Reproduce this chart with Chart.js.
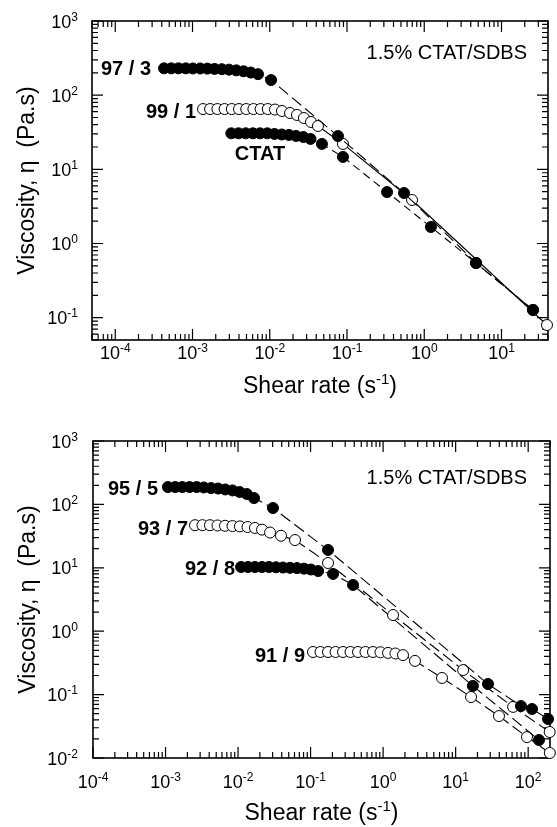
<!DOCTYPE html>
<html>
<head>
<meta charset="utf-8">
<title>Viscosity vs shear rate, 1.5% CTAT/SDBS</title>
<script src="https://cdn.jsdelivr.net/npm/chart.js@4.4.1/dist/chart.umd.min.js"></script>
<style>
  html, body { margin: 0; padding: 0; background: #fff; }
  #wrap { position: relative; width: 557px; height: 827px; }
  canvas { position: absolute; left: 0; }
  #top { top: 0; }
  #bottom { top: 413px; }
</style>
</head>
<body>
<div id="wrap">
  <canvas id="top" width="557" height="413"></canvas>
  <canvas id="bottom" width="557" height="414"></canvas>
</div>
<script>
// ============================================
// Data: shear rate (1/s) and viscosity (Pa.s)
// ============================================

// --- top panel: 97/3, 99/1, pure CTAT ---
const rate97 = [4.28e-4, 5.31e-4, 6.58e-4, 8.17e-4, 1.01e-3, 1.26e-3, 1.56e-3, 1.93e-3, 2.40e-3, 2.97e-3,
                3.69e-3, 4.58e-3, 5.68e-3, 7.05e-3, 1.04e-2, 0.0764, 0.547, 4.68, 25.6];
const eta97  = [230, 230, 230, 230, 229, 229, 228, 226, 224, 221,
                216, 210, 202, 192, 160, 28.1, 4.8, 0.546, 0.127];

const rate99 = [1.37e-3, 1.69e-3, 2.10e-3, 2.60e-3, 3.23e-3, 4.00e-3, 4.96e-3, 6.14e-3, 7.61e-3, 9.44e-3,
                1.17e-2, 1.44e-2, 1.83e-2, 2.25e-2, 2.77e-2, 3.42e-2, 4.21e-2, 0.0887, 0.695, 38.8];
const eta99  = [65, 65, 65, 65, 65, 65, 65, 65, 65, 65,
                64, 61.2, 57.5, 54.1, 49.2, 43.5, 38.4, 22.0, 3.86, 0.0796];

const rateCtat = [3.18e-3, 3.94e-3, 4.88e-3, 6.05e-3, 7.50e-3, 9.29e-3, 1.15e-2, 1.43e-2, 1.77e-2, 2.19e-2,
                  2.72e-2, 3.37e-2, 4.74e-2, 0.0887, 0.330, 1.22, 4.68, 25.6];
const etaCtat  = [30.6, 30.6, 30.6, 30.6, 30.6, 30.6, 30.0, 29.5, 29.1, 28.2,
                  27.3, 25.7, 22.0, 14.7, 4.94, 1.67, 0.546, 0.127];

// --- bottom panel: 95/5, 93/7, 92/8, 91/9 ---
const rate95 = [1.08e-3, 1.36e-3, 1.70e-3, 2.14e-3, 2.69e-3, 3.37e-3, 4.24e-3, 5.32e-3, 6.67e-3, 8.38e-3,
                1.05e-2, 1.32e-2, 1.66e-2, 3.03e-2, 0.174, 27.9, 79.6, 113, 188];
const eta95  = [188, 188, 188, 188, 188, 185, 181, 178, 172, 166,
                157, 146, 126, 87.7, 19.1, 0.147, 0.066, 0.0593, 0.0412];

const rate93 = [2.55e-3, 3.23e-3, 4.10e-3, 5.21e-3, 6.61e-3, 8.38e-3, 1.06e-2, 1.35e-2, 1.71e-2, 2.14e-2,
                2.76e-2, 3.91e-2, 6.10e-2, 0.174, 1.37, 12.7, 62, 198];
const eta93  = [47, 47, 47, 46.5, 46, 45.5, 45, 44, 42.5, 40,
                36, 32, 27.4, 11.9, 1.80, 0.244, 0.064, 0.0257];

const rate92 = [1.10e-2, 1.37e-2, 1.71e-2, 2.14e-2, 2.67e-2, 3.34e-2, 4.17e-2, 5.20e-2, 6.50e-2, 8.11e-2,
                0.101, 0.127, 0.204, 0.385, 17.3, 141];
const eta92  = [10.3, 10.3, 10.3, 10.3, 10.3, 10.2, 10.1, 10.0, 9.9, 9.7,
                9.4, 8.9, 8.0, 5.36, 0.137, 0.0192];

const rate91 = [0.108, 0.137, 0.174, 0.221, 0.280, 0.355, 0.451, 0.571, 0.725, 0.920,
                1.17, 1.48, 1.88, 2.75, 6.49, 16.3, 39.6, 96.4, 199];
const eta91  = [0.47, 0.47, 0.47, 0.47, 0.47, 0.47, 0.47, 0.47, 0.47, 0.465,
                0.455, 0.445, 0.42, 0.34, 0.183, 0.0916, 0.0459, 0.0214, 0.012];

// Decade exponents for the tick labels
const topXExps = [-4, -3, -2, -1, 0, 1];
const topYExps = [3, 2, 1, 0, -1];
const botXExps = [-4, -3, -2, -1, 0, 1, 2];
const botYExps = [3, 2, 1, 0, -1, -2];

const seriesNamesTop = ['97 / 3', '99 / 1', 'CTAT'];
const seriesNamesBot = ['95 / 5', '93 / 7', '92 / 8', '91 / 9'];
const sampleNote = '1.5% CTAT/SDBS';

// ============================================
// Helpers
// ============================================
const FAMILY = '"Liberation Sans", Arial, Helvetica, sans-serif';
const F = (size, weight) => `${weight || ''} ${size}px ${FAMILY}`.trim();

// Draws a run of text pieces (for superscripts) from one anchor
function drawRich(ctx, parts, x, y, align) {
    let total = 0;
    parts.forEach(p => {
        ctx.font = p.font;
        p.w = ctx.measureText(p.text).width;
        total += p.w;
    });
    let cx = align === 'center' ? x - total / 2 : align === 'right' ? x - total : x;
    ctx.textAlign = 'left';
    ctx.textBaseline = 'alphabetic';
    parts.forEach(p => {
        ctx.font = p.font;
        ctx.fillText(p.text, cx, y - (p.rise || 0));
        cx += p.w;
    });
}

// "10" with a raised exponent
function powParts(exp) {
    return [
        { text: '10', font: F(18) },
        { text: exp < 0 ? '-' + Math.abs(exp) : String(exp), font: F(12), rise: 7 }
    ];
}

function series(xs, ys, filled, dash) {
    return {
        data: xs.map((x, i) => ({ x, y: ys[i] })),
        showLine: true,
        borderColor: '#000',
        borderWidth: 1.1,
        borderDash: dash,
        pointRadius: 5.5,
        pointBackgroundColor: filled ? '#000' : '#fff',
        pointBorderColor: '#000',
        pointBorderWidth: 1,
        clip: false
    };
}

// ------------------------------------------
// Frame + inward log ticks on all four sides
// ------------------------------------------
const framePlugin = {
    id: 'frame',
    beforeDatasetsDraw(chart) {
        const { ctx, chartArea: a, scales: { x, y } } = chart;
        const major = 11, minor = 6;
        ctx.save();
        ctx.strokeStyle = '#000';
        ctx.lineWidth = 1.2;
        ctx.beginPath();

        const logTicks = (scale) => {
            const out = [];
            const lo = Math.floor(Math.log10(scale.min)), hi = Math.ceil(Math.log10(scale.max));
            for (let d = lo; d <= hi; d++) {
                for (let m = 1; m <= 9; m++) {
                    const v = m * Math.pow(10, d);
                    if (v >= scale.min * 0.999 && v <= scale.max * 1.001) out.push({ v, major: m === 1 });
                }
            }
            return out;
        };

        logTicks(x).forEach(t => {
            const px = x.getPixelForValue(t.v);
            const len = t.major ? major : minor;
            ctx.moveTo(px, a.bottom); ctx.lineTo(px, a.bottom - len);
            ctx.moveTo(px, a.top);    ctx.lineTo(px, a.top + len);
        });
        logTicks(y).forEach(t => {
            const py = y.getPixelForValue(t.v);
            const len = t.major ? major : minor;
            ctx.moveTo(a.left, py);  ctx.lineTo(a.left + len, py);
            ctx.moveTo(a.right, py); ctx.lineTo(a.right - len, py);
        });
        ctx.stroke();

        ctx.lineWidth = 1.6;
        ctx.strokeRect(a.left, a.top, a.right - a.left, a.bottom - a.top);
        ctx.restore();
    }
};

// ------------------------------------------
// Tick labels, axis titles and curve labels
// ------------------------------------------
const textPlugin = {
    id: 'texts',
    afterDraw(chart, args, opts) {
        const { ctx, chartArea: a, scales: { x, y } } = chart;
        ctx.save();
        ctx.fillStyle = '#000';

        opts.xExps.forEach(e => {
            drawRich(ctx, powParts(e), x.getPixelForValue(Math.pow(10, e)), a.bottom + opts.xLabelGap, 'center');
        });
        opts.yExps.forEach(e => {
            drawRich(ctx, powParts(e), a.left - opts.yLabelGap, y.getPixelForValue(Math.pow(10, e)) + 6.5, 'right');
        });

        // x title
        drawRich(ctx, [
            { text: 'Shear rate (s', font: F(23) },
            { text: '-1', font: F(15), rise: 9 },
            { text: ')', font: F(23) }
        ], (a.left + a.right) / 2, a.bottom + opts.xTitleGap, 'center');

        // y title, rotated
        ctx.save();
        ctx.translate(opts.yTitleX, (a.top + a.bottom) / 2);
        ctx.rotate(-Math.PI / 2);
        drawRich(ctx, [{ text: 'Viscosity, \u03b7  (Pa.s)', font: F(23) }], 0, 0, 'center');
        ctx.restore();

        // sample note + curve labels
        drawRich(ctx, [{ text: sampleNote, font: F(20) }], opts.note.x, opts.note.y + 7.2, 'right');
        opts.labels.forEach(l => {
            drawRich(ctx, [{ text: l.text, font: F(20, 'bold') }], l.x, l.y + 7.2, l.align);
        });
        ctx.restore();
    }
};

// ============================================
// Panel builder
// ============================================
function makePanel(canvasId, datasets, cfg) {
    return new Chart(document.getElementById(canvasId), {
        type: 'scatter',
        data: { datasets },
        options: {
            responsive: false,
            animation: false,
            events: [],
            devicePixelRatio: 1,
            layout: { padding: { top: cfg.padTop, right: cfg.padRight, left: 0, bottom: 0 } },
            plugins: {
                legend: { display: false },
                tooltip: { enabled: false },
                texts: cfg.texts
            },
            scales: {
                x: {
                    type: 'logarithmic',
                    min: cfg.xMin, max: cfg.xMax,
                    bounds: 'data',
                    ticks: { display: false },
                    grid: { display: false },
                    border: { display: false },
                    afterFit: s => { s.height = cfg.xHeight; }
                },
                y: {
                    type: 'logarithmic',
                    min: cfg.yMin, max: cfg.yMax,
                    bounds: 'data',
                    ticks: { display: false },
                    grid: { display: false },
                    border: { display: false },
                    afterFit: s => { s.width = cfg.yWidth; }
                }
            }
        },
        plugins: [framePlugin, textPlugin]
    });
}

const dashLong = [12, 5];
const dashShort = [8, 5];

makePanel('top', [
    series(rate97, eta97, true, dashLong),
    series(rate99, eta99, false, []),
    series(rateCtat, etaCtat, true, dashShort)
], {
    xMin: 5e-5, xMax: 40, yMin: 0.05, yMax: 1000,
    padTop: 21, padRight: 9, yWidth: 92, xHeight: 73,
    texts: {
        xExps: topXExps, yExps: topYExps,
        xLabelGap: 18.5, yLabelGap: 14, xTitleGap: 53, yTitleX: 34,
        note: { x: 527, y: 52 },
        labels: [
            { text: seriesNamesTop[0], x: 151, y: 68, align: 'right' },
            { text: seriesNamesTop[1], x: 196, y: 111, align: 'right' },
            { text: seriesNamesTop[2], x: 260, y: 153, align: 'center' }
        ]
    }
});

makePanel('bottom', [
    series(rate95, eta95, true, dashLong),
    series(rate93, eta93, false, dashLong),
    series(rate92, eta92, true, dashLong),
    series(rate91, eta91, false, dashLong)
], {
    xMin: 1e-4, xMax: 200, yMin: 0.01, yMax: 1000,
    padTop: 28, padRight: 7, yWidth: 93, xHeight: 69,
    texts: {
        xExps: botXExps, yExps: botYExps,
        xLabelGap: 29.5, yLabelGap: 15, xTitleGap: 62, yTitleX: 35,
        note: { x: 527, y: 64 },
        labels: [
            { text: seriesNamesBot[0], x: 158, y: 75, align: 'right' },
            { text: seriesNamesBot[1], x: 188, y: 115, align: 'right' },
            { text: seriesNamesBot[2], x: 235, y: 155, align: 'right' },
            { text: seriesNamesBot[3], x: 305, y: 242, align: 'right' }
        ]
    }
});
</script>
</body>
</html>
